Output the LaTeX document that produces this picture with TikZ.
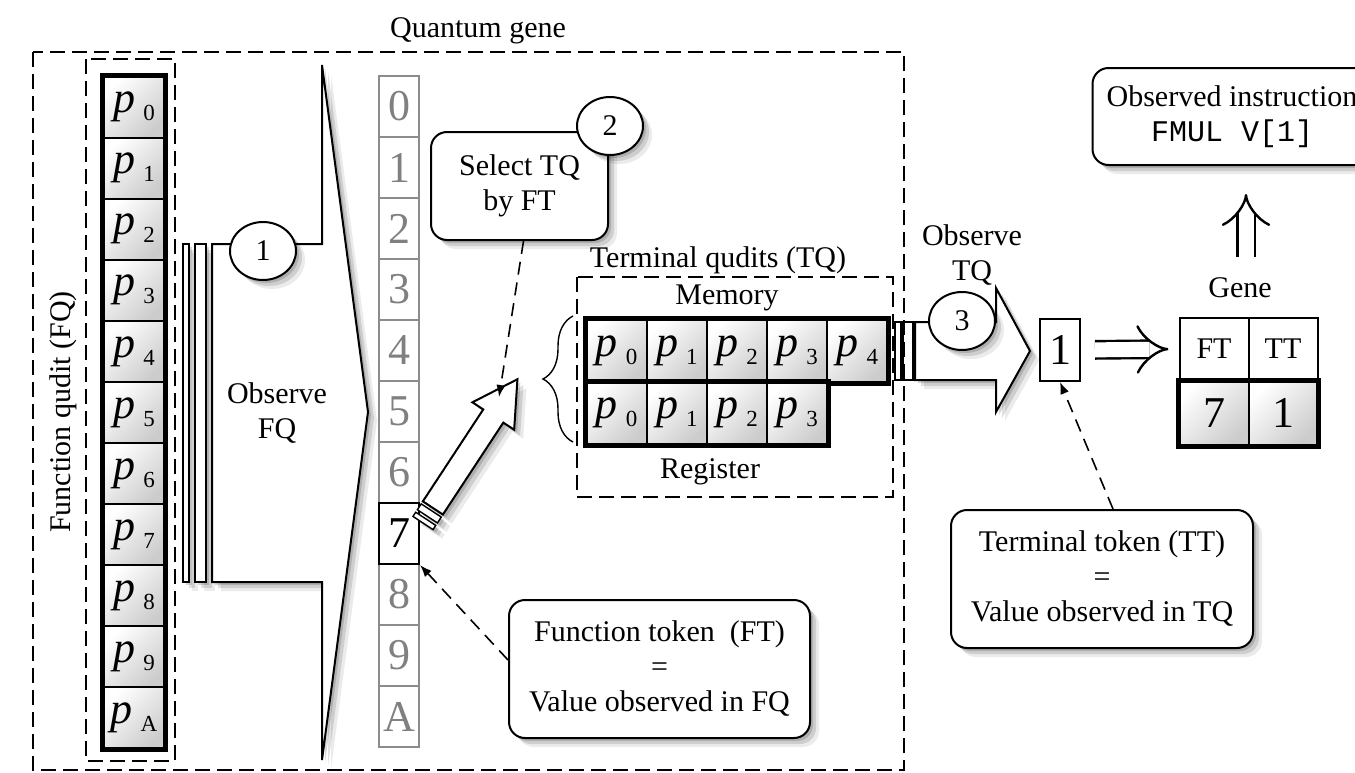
\documentclass[tikz,border=0pt]{standalone}
\usepackage{fontspec}
\setmainfont{Liberation Serif}
\setmonofont{Liberation Mono}
\usetikzlibrary{shapes.geometric,shadows,arrows.meta,decorations.pathreplacing}
\newcommand{\pcell}[1]{{\fontsize{22}{22}\selectfont\fontshape{it}\selectfont p}\hspace{4pt}\raisebox{-4pt}{\fontsize{11.5}{11.5}\selectfont #1}}
\newcommand{\bigfont}{\fontsize{22}{22}\selectfont}
\begin{document}
\begin{tikzpicture}[x=0.5pt,y=-0.5pt,font=\fontsize{15}{17.5}\selectfont,
	softshadow/.style={drop shadow={shadow xshift=4.5pt,shadow yshift=-4.5pt,opacity=0.08,fill=black},drop shadow={shadow xshift=3pt,shadow yshift=-3pt,opacity=0.12,fill=black},drop shadow={shadow xshift=1.5pt,shadow yshift=-1.5pt,opacity=0.15,fill=black}},
	fqcell/.style={draw,line width=1pt,minimum width=30.5pt,minimum height=30.55pt,inner sep=0pt,top color=white,bottom color=black!20,shading angle=45},
	tqcell/.style={fqcell,minimum width=30.1pt,minimum height=31.25pt},
	numcell/.style={draw=black!45,line width=1pt,minimum width=20pt,minimum height=30.5pt,inner sep=0pt,text=black!50,font=\bigfont},
	genehead/.style={draw,line width=1pt,minimum width=34.5pt,minimum height=31pt,inner sep=0pt},
	genecell/.style={fqcell,minimum width=34.5pt,minimum height=32pt,font=\bigfont},
	stepmark/.style={ellipse,draw,line width=1pt,fill=white,minimum width=33pt,minimum height=29pt,inner sep=0pt,softshadow},
	roundbox/.style={draw,line width=1pt,rounded corners=8pt,fill=white,align=center,inner sep=2pt,softshadow},
	blockarrow/.style={draw,line width=1pt,fill=white,softshadow},
	stripe/.style={draw,line width=0.7pt,fill=white},
	dashbox/.style={line width=1pt,dash pattern=on 7.5pt off 3.5pt},
	dashconn/.style={line width=0.8pt,dash pattern=on 6.5pt off 4pt,-{Latex[length=6pt,width=4.5pt]}},
	dblarrow/.style={double,double distance=7.5pt,line width=1.2pt,-{Implies[scale=1.4]}}]
	\useasboundingbox (0,0) rectangle (1355,772);
	
	\node (qglbl) at (478,31) {Quantum gene};
	\node[rotate=90] (fqlbl) at (63,412) {Function qudit (FQ)};
	
		\node[fqcell] (q0) at (134,107) {\pcell{0}};
		\node[fqcell] (q1) at (134,168.1) {\pcell{1}};
		\node[fqcell] (q2) at (134,229.2) {\pcell{2}};
		\node[fqcell] (q3) at (134,290.3) {\pcell{3}};
		\node[fqcell] (q4) at (134,351.4) {\pcell{4}};
		\node[fqcell] (q5) at (134,412.5) {\pcell{5}};
		\node[fqcell] (q6) at (134,473.6) {\pcell{6}};
		\node[fqcell] (q7) at (134,534.7) {\pcell{7}};
		\node[fqcell] (q8) at (134,595.8) {\pcell{8}};
		\node[fqcell] (q9) at (134,656.9) {\pcell{9}};
		\node[fqcell] (qA) at (134,718) {\pcell{A}};
	\draw[line width=2.5pt] (q0.north west) rectangle (qA.south east);
	
		\draw[stripe,softshadow] (183,244) rectangle (189,582);
		\draw[stripe,softshadow] (195,244) rectangle (206,582);
		\draw[blockarrow] (212,244) -- (322,244) -- (322,65) -- (368,412) -- (322,760) -- (322,582) -- (212,582) -- cycle;
	\node[stepmark] (c1) at (263,251) {1};
	\node[align=center] (obsfq) at (277,413) {Observe\\FQ};
	
		\node[numcell] (d0) at (399,106.5) {0};
		\node[numcell] (d1) at (399,167.5) {1};
		\node[numcell] (d2) at (399,228.5) {2};
		\node[numcell] (d3) at (399,289.5) {3};
		\node[numcell] (d4) at (399,350.5) {4};
		\node[numcell] (d5) at (399,411.5) {5};
		\node[numcell] (d6) at (399,472.5) {6};
		\node[numcell] (d8) at (399,594.5) {8};
		\node[numcell] (d9) at (399,655.5) {9};
		\node[numcell] (dA) at (399,716.5) {A};
		\node[numcell,draw=black,text=black] (d7) at (399,533.5) {7};
	
	\begin{scope}[shift={(423,523)},rotate=56.7]
		\draw[stripe,softshadow] (0,-12) rectangle (5,12);
		\draw[stripe,softshadow] (8,-12) rectangle (15,12);
		\draw[blockarrow] (18,-12) -- (128,-12) -- (128,-25) -- (172,0) -- (128,25) -- (128,12) -- (18,12) -- cycle;
	\end{scope}
	
	\node[roundbox,minimum width=88.5pt,minimum height=54pt] (sel) at (519.5,186) {Select TQ\\by FT};
	\node[stepmark] (c2) at (610,126) {2};
	\coordinate (seltip) at (499,397);
	\draw[dashconn] ([xshift=2pt]sel.south) -- (seltip);
	
	\node (tqlbl) at (718,260) {Terminal qudits (TQ)};
	\node (memlbl) at (727,298) {Memory};
		\node[tqcell] (m0) at (616.6,350.75) {\pcell{0}};
		\node[tqcell] (m1) at (676.8,350.75) {\pcell{1}};
		\node[tqcell] (m2) at (737,350.75) {\pcell{2}};
		\node[tqcell] (m3) at (797.2,350.75) {\pcell{3}};
		\node[tqcell] (m4) at (857.4,350.75) {\pcell{4}};
	\draw[line width=2.5pt] (m0.north west) rectangle (m4.south east);
		\node[tqcell] (r0) at (616.6,413.25) {\pcell{0}};
		\node[tqcell] (r1) at (676.8,413.25) {\pcell{1}};
		\node[tqcell] (r2) at (737,413.25) {\pcell{2}};
		\node[tqcell] (r3) at (797.2,413.25) {\pcell{3}};
	\draw[line width=2.5pt] (r0.north west) rectangle (r3.south east);
	\node (reglbl) at (710,472) {Register};
	\draw[line width=0.7pt,decorate,decoration={brace,amplitude=15pt}] (573,442) -- (573,316);
	
		\draw[stripe] (895,322) rectangle (901,380);
		\draw[stripe] (903,322) rectangle (913,380);
		\draw[blockarrow] (915,322) -- (996,322) -- (996,288) -- (1030,351) -- (996,412) -- (996,380) -- (915,380) -- cycle;
	\node[stepmark] (c3) at (962,321) {3};
	\node[align=center] (obstq) at (972,255) {Observe\\TQ};
	
	\node[draw,line width=1pt,minimum width=20pt,minimum height=31pt,inner sep=0pt,font=\bigfont] (one) at (1060,350) {1};
	
	\node (genelbl) at (1240,288) {Gene};
	\node[genehead] (h1) at (1214,349) {FT};
	\node[genehead] (h2) at (1283,349) {TT};
	\node[genecell] (v1) at (1214,413) {7};
	\node[genecell] (v2) at (1283,413) {1};
	\draw[line width=2.5pt] (v1.north west) rectangle (v2.south east);
	\draw[dblarrow,shorten <=7pt,shorten >=5pt] (one.east) -- (h1.west);
	
	\node[roundbox,minimum width=139.5pt,minimum height=48.5pt] (instr) at (1232,116.5) {Observed instruction\\\texttt{FMUL V[1]}};
	\draw[dblarrow,shorten <=7pt,shorten >=14pt] ([xshift=3pt]genelbl.north) -- ([xshift=3pt]genelbl.north |- instr.south);
	
	\node[roundbox,minimum width=150.5pt,minimum height=69pt] (ft) at (659.5,669) {Function token~~(FT)\\=\\Value observed in FQ};
	\draw[dashconn] ([yshift=4.5pt]ft.west) -- (d7.south east);
	
	\node[roundbox,minimum width=151pt,minimum height=69pt] (tt) at (1102,579) {Terminal token (TT)\\=\\Value observed in TQ};
	\draw[dashconn] ([xshift=5.5pt]tt.north) -- (one.south);
	
	\draw[dashbox] (33,52) rectangle (904,770);
	\draw[dashbox] (86,59) rectangle (175,761);
	\draw[dashbox] (577,277) rectangle (893,497);
\end{tikzpicture}
\end{document}
